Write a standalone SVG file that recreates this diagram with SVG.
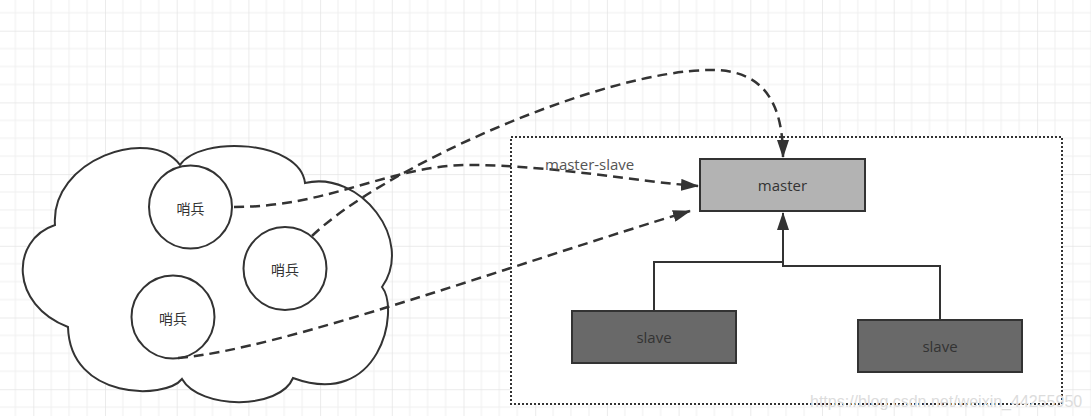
<svg xmlns="http://www.w3.org/2000/svg" width="1091" height="416" viewBox="0 0 1091 416">
  <defs>
    <pattern id="grid" patternUnits="userSpaceOnUse" x="33.3" y="30.7" width="71.7" height="71.7">
      <rect x="0" y="0" width="71.7" height="71.7" fill="#ffffff"/>
      <g fill="#f0f0f0">
        <rect x="17.4" y="0" width="1" height="71.7"/>
        <rect x="35.3" y="0" width="1" height="71.7"/>
        <rect x="53.3" y="0" width="1" height="71.7"/>
        <rect x="0" y="17.4" width="71.7" height="1"/>
        <rect x="0" y="35.3" width="71.7" height="1"/>
        <rect x="0" y="53.3" width="71.7" height="1"/>
      </g>
      <g fill="#e3e3e3">
        <rect x="-0.6" y="0" width="1.3" height="71.7"/>
        <rect x="0" y="-0.6" width="71.7" height="1.3"/>
      </g>
    </pattern>
    <marker id="arrow" viewBox="0 0 18 12" refX="17" refY="6" markerWidth="18" markerHeight="12" markerUnits="userSpaceOnUse" orient="auto">
      <path d="M0,0 L18,6 L0,12 Z" fill="#333333"/>
    </marker>
    <style>
      .txt { font-family: "Open Sans", "Noto Sans CJK SC", sans-serif; font-size: 15px; fill: #333333; text-anchor: middle; dominant-baseline: central; }
      .cjk { font-size: 14px; }
      .shape { stroke: #333333; stroke-width: 2; }
      .sentinel { fill: #ffffff; stroke: #333333; stroke-width: 2; }
      .dash { fill: none; stroke: #333333; stroke-width: 2.5; stroke-dasharray: 10 6; }
      .solid { fill: none; stroke: #333333; stroke-width: 2; }
    </style>
  </defs>

  <rect x="0" y="0" width="1091" height="416" fill="url(#grid)"/>

  <g id="container">
    <rect x="511" y="137" width="551" height="267" fill="#ffffff" stroke="#333333" stroke-width="2" stroke-dasharray="2 2"/>
  </g>

  <g id="cloud">
    <path class="shape" fill="#ffffff" d="M55,225 C50,160 150,125 180,165 C200,135 300,140 305,183 C360,170 415,240 382,287 C400,310 380,410 293,378 C280,410 200,410 182,379 C165,400 70,400 68,327 C10,305 10,240 55,225 Z"/>
  </g>

  <g id="sentinel1">
    <circle class="sentinel" cx="190.5" cy="207" r="41.5"/>
    <text class="txt cjk" x="190.5" y="208">哨兵</text>
  </g>
  <g id="sentinel2">
    <circle class="sentinel" cx="285" cy="268.5" r="41.5"/>
    <text class="txt cjk" x="285" y="269.5">哨兵</text>
  </g>
  <g id="sentinel3">
    <circle class="sentinel" cx="173" cy="317" r="41.5"/>
    <text class="txt cjk" x="173" y="318">哨兵</text>
  </g>

  <g id="connectors">
    <path class="dash" d="M234,207 C330,207 390,165 470,165 S640,182 698,186" marker-end="url(#arrow)"/>
    <path class="dash" d="M312,236 C380,170 600,70 712,70 C765,70 783,105 783,157" marker-end="url(#arrow)"/>
    <path class="dash" d="M178,358 C280,350 520,262 690,211" marker-end="url(#arrow)"/>
    <path class="solid" d="M654,311 V262 H783 V213" marker-end="url(#arrow)"/>
    <path class="solid" d="M940,320 V266 H783 V262"/>
  </g>

  <g id="label-master-slave">
    <text x="545" y="170" font-family="'Open Sans', 'Noto Sans CJK SC', sans-serif" font-size="15" fill="#555555">master-slave</text>
  </g>

  <g id="master">
    <rect class="shape" x="700" y="159" width="165" height="52" fill="#b3b3b3"/>
    <text class="txt" x="782.5" y="185">master</text>
  </g>
  <g id="slave1">
    <rect class="shape" x="572" y="311" width="164" height="52" fill="#696969"/>
    <text class="txt" x="654" y="337">slave</text>
  </g>
  <g id="slave2">
    <rect class="shape" x="858" y="320" width="164" height="52" fill="#696969"/>
    <text class="txt" x="940" y="346">slave</text>
  </g>

  <text x="810" y="407" font-family="'Liberation Sans', Arial, sans-serif" font-size="16" fill="#dcdcdc">https://blog.csdn.net/weixin_44255950</text>
</svg>
